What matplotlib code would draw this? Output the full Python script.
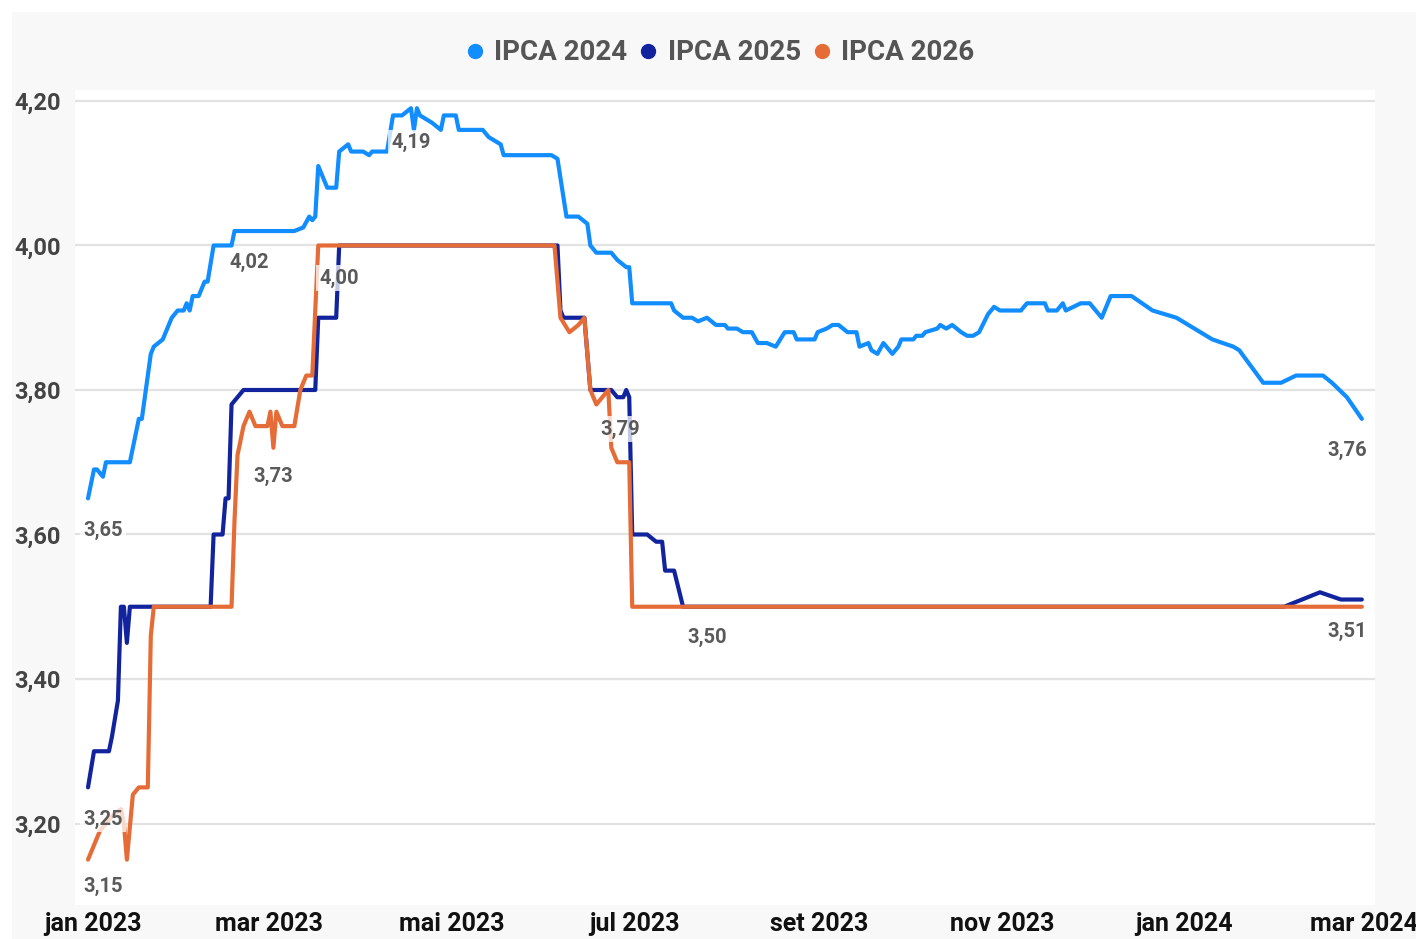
import matplotlib
matplotlib.use('agg')
import matplotlib.pyplot as plt
import matplotlib.transforms as mtransforms
from matplotlib.lines import Line2D
from matplotlib.patches import Rectangle
import pandas as pd

plt.rcParams['font.family'] = ['Roboto', 'DejaVu Sans']

# IPCA expectations (Focus), %
ipca24_dates = ['2023-01-02', '2023-01-04', '2023-01-05', '2023-01-07', '2023-01-08', '2023-01-16',
                '2023-01-18', '2023-01-19', '2023-01-20', '2023-01-21', '2023-01-23', '2023-01-24',
                '2023-01-27', '2023-01-28', '2023-01-29', '2023-01-30', '2023-02-01', '2023-02-03',
                '2023-02-04', '2023-02-05', '2023-02-06', '2023-02-08', '2023-02-10', '2023-02-11',
                '2023-02-13', '2023-02-19', '2023-02-20', '2023-03-07', '2023-03-12', '2023-03-15',
                '2023-03-17', '2023-03-18', '2023-03-19', '2023-03-20', '2023-03-23', '2023-03-26',
                '2023-03-27', '2023-03-30', '2023-03-31', '2023-04-04', '2023-04-06', '2023-04-07',
                '2023-04-12', '2023-04-14', '2023-04-17', '2023-04-20', '2023-04-21', '2023-04-22',
                '2023-04-23', '2023-04-27', '2023-04-30', '2023-05-01', '2023-05-05', '2023-05-06',
                '2023-05-14', '2023-05-16', '2023-05-20', '2023-05-21', '2023-06-06', '2023-06-08',
                '2023-06-11', '2023-06-15', '2023-06-18', '2023-06-19', '2023-06-21', '2023-06-26',
                '2023-06-28', '2023-07-01', '2023-07-02', '2023-07-03', '2023-07-16', '2023-07-17',
                '2023-07-20', '2023-07-23', '2023-07-25', '2023-07-28', '2023-07-31', '2023-08-03',
                '2023-08-04', '2023-08-07', '2023-08-09', '2023-08-12', '2023-08-14', '2023-08-17',
                '2023-08-20', '2023-08-23', '2023-08-26', '2023-08-27', '2023-09-02', '2023-09-03',
                '2023-09-06', '2023-09-08', '2023-09-10', '2023-09-13', '2023-09-16', '2023-09-17',
                '2023-09-20', '2023-09-21', '2023-09-23', '2023-09-25', '2023-09-27', '2023-09-28',
                '2023-09-30', '2023-10-01', '2023-10-05', '2023-10-06', '2023-10-08', '2023-10-09',
                '2023-10-13', '2023-10-14', '2023-10-16', '2023-10-18', '2023-10-21', '2023-10-23',
                '2023-10-25', '2023-10-27', '2023-10-30', '2023-11-01', '2023-11-03', '2023-11-10',
                '2023-11-12', '2023-11-18', '2023-11-19', '2023-11-22', '2023-11-24', '2023-11-25',
                '2023-11-30', '2023-12-03', '2023-12-07', '2023-12-10', '2023-12-17', '2023-12-24',
                '2024-01-01', '2024-01-13', '2024-01-20', '2024-01-22', '2024-01-30', '2024-02-05',
                '2024-02-10', '2024-02-19', '2024-02-22', '2024-02-27', '2024-03-03']
ipca24_vals = [3.65, 3.69, 3.69, 3.68, 3.70, 3.70, 3.74, 3.76, 3.76, 3.79, 3.85, 3.86,
               3.87, 3.88, 3.89, 3.90, 3.91, 3.91, 3.92, 3.91, 3.93, 3.93, 3.95, 3.95,
               4.00, 4.00, 4.02, 4.02, 4.02, 4.025, 4.04, 4.035, 4.04, 4.11, 4.08, 4.08,
               4.13, 4.14, 4.13, 4.13, 4.125, 4.13, 4.13, 4.18, 4.18, 4.19, 4.16, 4.19,
               4.18, 4.17, 4.16, 4.18, 4.18, 4.16, 4.16, 4.15, 4.14, 4.125, 4.125, 4.12,
               4.04, 4.04, 4.03, 4.00, 3.99, 3.99, 3.98, 3.97, 3.97, 3.92, 3.92, 3.91,
               3.90, 3.90, 3.895, 3.90, 3.89, 3.89, 3.885, 3.885, 3.88, 3.88, 3.865, 3.865,
               3.86, 3.88, 3.88, 3.87, 3.87, 3.88, 3.885, 3.89, 3.89, 3.88, 3.88, 3.86,
               3.865, 3.855, 3.85, 3.865, 3.855, 3.85, 3.86, 3.87, 3.87, 3.875, 3.875, 3.88,
               3.885, 3.89, 3.885, 3.89, 3.88, 3.875, 3.875, 3.88, 3.905, 3.915, 3.91, 3.91,
               3.92, 3.92, 3.91, 3.91, 3.92, 3.91, 3.92, 3.92, 3.90, 3.93, 3.93, 3.91,
               3.90, 3.87, 3.86, 3.855, 3.81, 3.81, 3.82, 3.82, 3.81, 3.79, 3.76]

ipca25_dates = ['2023-01-02', '2023-01-04', '2023-01-09', '2023-01-10', '2023-01-12', '2023-01-13',
                '2023-01-14', '2023-01-15', '2023-01-16', '2023-02-12', '2023-02-13', '2023-02-16',
                '2023-02-17', '2023-02-18', '2023-02-19', '2023-02-23', '2023-02-25', '2023-03-19',
                '2023-03-20', '2023-03-26', '2023-03-27', '2023-06-08', '2023-06-09', '2023-06-10',
                '2023-06-17', '2023-06-19', '2023-06-26', '2023-06-28', '2023-06-30', '2023-07-01',
                '2023-07-02', '2023-07-03', '2023-07-08', '2023-07-11', '2023-07-13', '2023-07-14',
                '2023-07-17', '2023-07-20', '2024-02-06', '2024-02-18', '2024-02-25', '2024-03-03']
ipca25_vals = [3.25, 3.30, 3.30, 3.32, 3.37, 3.50, 3.50, 3.45, 3.50, 3.50, 3.60, 3.60,
               3.65, 3.65, 3.78, 3.80, 3.80, 3.80, 3.90, 3.90, 4.00, 4.00, 3.91, 3.90,
               3.90, 3.80, 3.80, 3.79, 3.79, 3.80, 3.79, 3.60, 3.60, 3.59, 3.59, 3.55,
               3.55, 3.50, 3.50, 3.52, 3.51, 3.51]

ipca26_dates = ['2023-01-02', '2023-01-06', '2023-01-10', '2023-01-13', '2023-01-14', '2023-01-15',
                '2023-01-17', '2023-01-19', '2023-01-22', '2023-01-23', '2023-01-24', '2023-01-25',
                '2023-02-19', '2023-02-20', '2023-02-21', '2023-02-23', '2023-02-25', '2023-02-27',
                '2023-03-03', '2023-03-04', '2023-03-05', '2023-03-06', '2023-03-08', '2023-03-12',
                '2023-03-14', '2023-03-16', '2023-03-18', '2023-03-20', '2023-06-07', '2023-06-09',
                '2023-06-12', '2023-06-15', '2023-06-17', '2023-06-19', '2023-06-21', '2023-06-23',
                '2023-06-25', '2023-06-26', '2023-06-28', '2023-07-02', '2023-07-03', '2024-03-03']
ipca26_vals = [3.15, 3.19, 3.21, 3.22, 3.20, 3.15, 3.24, 3.25, 3.25, 3.46, 3.50, 3.50,
               3.50, 3.62, 3.71, 3.75, 3.77, 3.75, 3.75, 3.77, 3.72, 3.77, 3.75, 3.75,
               3.80, 3.82, 3.82, 4.00, 4.00, 3.90, 3.88, 3.89, 3.90, 3.80, 3.78, 3.79,
               3.80, 3.72, 3.70, 3.70, 3.50, 3.50]

# data labels: text, date, value
label_texts = ['3,65', '4,02', '4,19', '3,76', '3,25', '3,73', '4,00', '3,79', '3,51', '3,15', '3,50']
label_dates = ['2023-01-07', '2023-02-25', '2023-04-20', '2024-02-27', '2023-01-07', '2023-03-05',
               '2023-03-27', '2023-06-29', '2024-02-27', '2023-01-07', '2023-07-28']
label_vals = [3.606, 3.977, 4.143, 3.716, 3.205, 3.681, 3.955, 3.746, 3.466, 3.113, 3.457]

series_names = ['IPCA 2024', 'IPCA 2025', 'IPCA 2026']
colors = ['#118DFF', '#12239E', '#E66C37']

month_ticks = ['2023-01-01', '2023-03-01', '2023-05-01', '2023-07-01', '2023-09-01',
               '2023-11-01', '2024-01-01', '2024-03-01']
month_labels = ['jan 2023', 'mar 2023', 'mai 2023', 'jul 2023', 'set 2023', 'nov 2023',
                'jan 2024', 'mar 2024']
y_ticks = [3.2, 3.4, 3.6, 3.8, 4.0, 4.2]

W, H = 1416, 939
fig = plt.figure(figsize=(W / 100, H / 100), dpi=100, facecolor='white')
fig.patches.append(Rectangle((12 / W, 0), 1, 1 - 12 / H, transform=fig.transFigure,
                             facecolor='#f8f8f8', edgecolor='none', zorder=-10))

ax = fig.add_axes([75 / W, 1 - 905 / H, 1300 / W, 815 / H])
ax.set_facecolor('white')

for d, v, c in zip([ipca24_dates, ipca25_dates, ipca26_dates],
                   [ipca24_vals, ipca25_vals, ipca26_vals], colors):
    ax.plot(pd.to_datetime(d), v, color=c, lw=3, solid_joinstyle='round',
            solid_capstyle='round', zorder=3)

for t, d, v in zip(label_texts, label_dates, label_vals):
    ax.text(pd.Timestamp(d), v, t, ha='center', va='center', fontsize=14.5, fontweight='bold',
            color='#5a5a5a', zorder=5,
            bbox=dict(boxstyle='square,pad=0.15', fc='white', ec='none', alpha=0.75))

t0 = pd.Timestamp('2023-01-01')
ax.set_xlim(t0 + pd.Timedelta(days=-3.35), t0 + pd.Timedelta(days=431.4))
ax.set_ylim(3.0872, 4.2152)

ax.set_xticks(pd.to_datetime(month_ticks))
ax.set_xticklabels(month_labels, fontsize=18, fontweight='bold', color='#111111')
ax.set_yticks(y_ticks)
ax.set_yticklabels([f'{v:.2f}'.replace('.', ',') for v in y_ticks], fontsize=17,
                   fontweight='bold', color='#444444')
ax.tick_params(axis='x', length=0, pad=5)
ax.tick_params(axis='y', length=0, pad=10)
shift = mtransforms.ScaledTranslation(8 / 100, 0, fig.dpi_scale_trans)
for lbl in ax.get_xticklabels():
    lbl.set_transform(lbl.get_transform() + shift)

ax.yaxis.grid(True, color='#e2e2e2', lw=1.6, zorder=0)
ax.set_axisbelow(True)
for s in ax.spines.values():
    s.set_visible(False)

handles = [Line2D([], [], marker='o', ls='none', color=c, markersize=10) for c in colors]
fig.legend(handles, series_names, loc='center', bbox_to_anchor=(0.505, 1 - 53 / H), ncol=3,
           frameon=False, handletextpad=0.0, columnspacing=0.05, handlelength=1.4,
           prop=dict(size=20, weight='bold'), labelcolor='#555555')

fig.savefig('out.png', dpi=100, facecolor=fig.get_facecolor())
